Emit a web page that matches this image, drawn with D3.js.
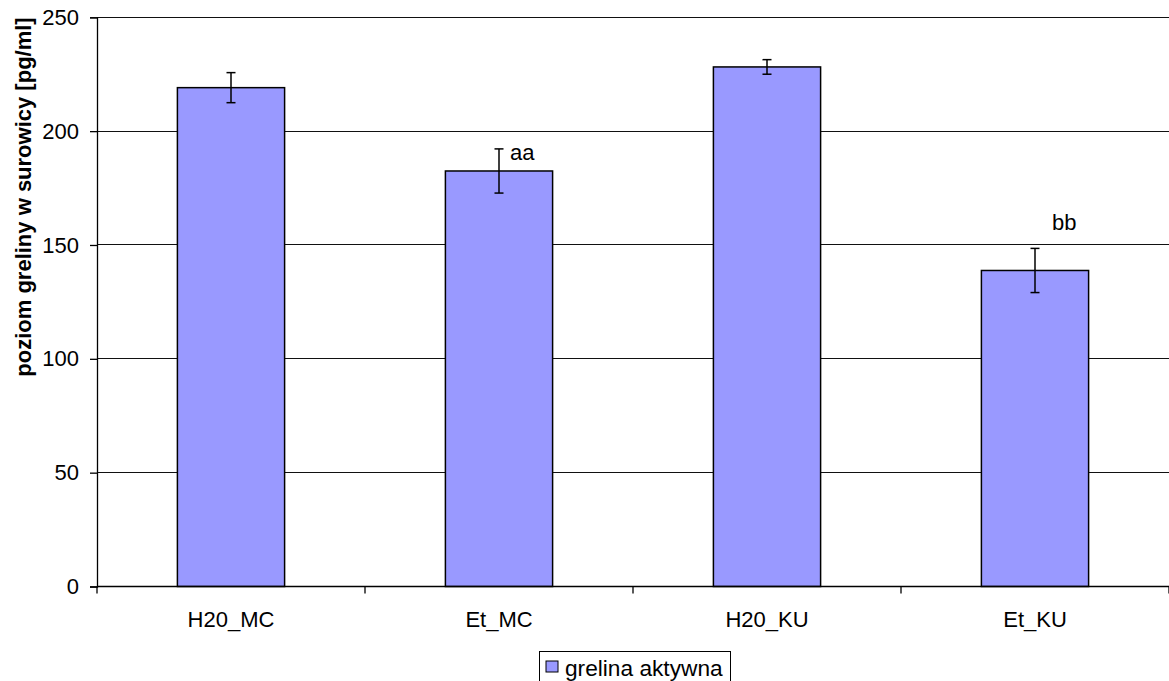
<!DOCTYPE html>
<html>
<head>
<meta charset="utf-8">
<script src="https://cdn.jsdelivr.net/npm/d3@7"></script>
<style>
  html, body { margin: 0; padding: 0; background: #fff; }
  svg { display: block; font-family: "Liberation Sans", Arial, sans-serif; }
</style>
</head>
<body>
<svg id="chart" width="1169" height="681"></svg>
<script>
// Serum ghrelin levels per group
const categories = ["H20_MC", "Et_MC", "H20_KU", "Et_KU"];
const means = [219.1, 182.5, 228.2, 138.8];
const errors = [6.6, 9.7, 3.2, 9.7];
const significance = ["", "aa", "", "bb"];
const yTicks = [0, 50, 100, 150, 200, 250];
const seriesName = "grelina aktywna";
const yTitle = "poziom greliny w surowicy [pg/ml]";

const svg = d3.select("#chart");
const plotLeft = 97, plotRight = 1169, plotTop = 17.3, plotBottom = 586.5;
const fontSize = 22;

const x = d3.scaleBand().domain(categories).range([plotLeft, plotRight]).paddingInner(0.6).paddingOuter(0.3);
const xBand = d3.scaleBand().domain(categories).range([plotLeft, plotRight]);
const y = d3.scaleLinear().domain([0, 250]).range([plotBottom, plotTop]);

// horizontal gridlines
svg.append("g").selectAll("line").data(yTicks.filter(d => d > 0)).join("line")
  .attr("x1", plotLeft).attr("x2", plotRight)
  .attr("y1", d => y(d)).attr("y2", d => y(d))
  .attr("stroke", "#111").attr("stroke-width", 1).attr("shape-rendering", "crispEdges");

// bars
svg.append("g").selectAll("rect").data(categories).join("rect")
  .attr("x", d => x(d))
  .attr("y", (d, i) => y(means[i]))
  .attr("width", x.bandwidth())
  .attr("height", (d, i) => y(0) - y(means[i]))
  .attr("fill", "#9999FF")
  .attr("stroke", "#000").attr("stroke-width", 1.5);

// error bars
const eb = svg.append("g").attr("stroke", "#000").attr("stroke-width", 1.5);
categories.forEach((c, i) => {
  const cx = x(c) + x.bandwidth() / 2;
  const y1 = y(means[i] + errors[i]), y2 = y(means[i] - errors[i]);
  eb.append("line").attr("x1", cx).attr("x2", cx).attr("y1", y1).attr("y2", y2);
  eb.append("line").attr("x1", cx - 4.5).attr("x2", cx + 4.5).attr("y1", y1).attr("y2", y1);
  eb.append("line").attr("x1", cx - 4.5).attr("x2", cx + 4.5).attr("y1", y2).attr("y2", y2);
});

// significance markers
const markOffsets = { aa: [11, 11], bb: [17, -18] };
categories.forEach((c, i) => {
  const s = significance[i];
  if (!s) return;
  const cx = x(c) + x.bandwidth() / 2;
  const off = markOffsets[s];
  svg.append("text")
    .attr("x", cx + off[0])
    .attr("y", y(means[i] + errors[i]) + off[1])
    .attr("font-size", fontSize).attr("fill", "#000")
    .text(s);
});

// y axis
const yAxis = d3.axisLeft(y).tickValues(yTicks).tickSize(7).tickPadding(11);
const gy = svg.append("g").attr("transform", `translate(${plotLeft},0)`).call(yAxis);
gy.attr("font-size", fontSize).attr("font-family", "Liberation Sans, Arial, sans-serif");
gy.select(".domain").attr("stroke", "#000").attr("stroke-width", 1.3);
gy.selectAll(".tick line").attr("stroke", "#000").attr("stroke-width", 1.3);
gy.selectAll(".tick text").attr("font-size", fontSize).attr("fill", "#000");

// x axis: ticks at category boundaries
const gx = svg.append("g").attr("transform", `translate(0,${plotBottom})`);
gx.append("line").attr("x1", plotLeft).attr("x2", plotRight).attr("stroke", "#000").attr("stroke-width", 1.3);
const bounds = categories.map(c => xBand(c)).concat([plotRight]);
gx.selectAll("line.tk").data(bounds).join("line").attr("class", "tk")
  .attr("x1", d => d).attr("x2", d => d).attr("y1", 0).attr("y2", 7)
  .attr("stroke", "#000").attr("stroke-width", 1.3);
gx.selectAll("text").data(categories).join("text")
  .attr("x", d => xBand(d) + xBand.bandwidth() / 2)
  .attr("y", 40)
  .attr("text-anchor", "middle")
  .attr("font-size", fontSize).attr("fill", "#000")
  .text(d => d);

// y axis title
svg.append("text")
  .attr("transform", "translate(31,197) rotate(-90)")
  .attr("text-anchor", "middle")
  .attr("font-size", fontSize).attr("font-weight", "bold").attr("fill", "#000")
  .text(yTitle);

// legend
const lg = svg.append("g");
lg.append("rect").attr("x", 539.5).attr("y", 651.5).attr("width", 191).attr("height", 40)
  .attr("fill", "#fff").attr("stroke", "#000").attr("stroke-width", 1);
lg.append("rect").attr("x", 546).attr("y", 661).attr("width", 12).attr("height", 11)
  .attr("fill", "#9999FF").attr("stroke", "#000").attr("stroke-width", 1);
lg.append("text").attr("x", 565).attr("y", 675.5)
  .attr("font-size", 22.7).attr("fill", "#000").text(seriesName);
</script>
</body>
</html>
